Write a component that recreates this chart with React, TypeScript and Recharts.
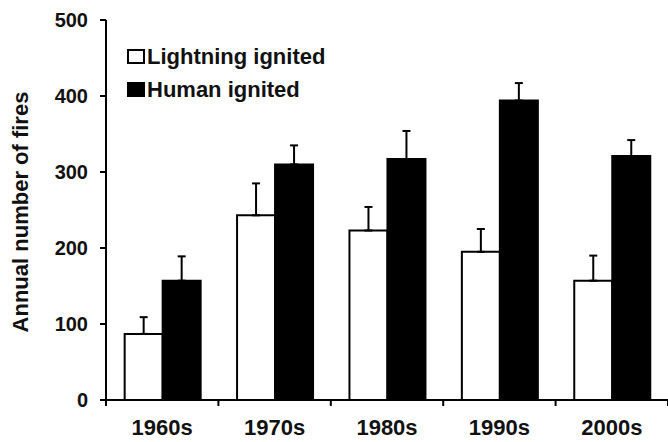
import { Bar, BarChart, ErrorBar, Label, XAxis, YAxis } from "recharts";

const DECADES = ["1960s", "1970s", "1980s", "1990s", "2000s"];
const LIGHTNING = [87, 243, 223, 195, 157];
const LIGHTNING_ERR = [22, 42, 31, 30, 33];
const HUMAN = [157, 310, 317, 394, 321];
const HUMAN_ERR = [32, 25, 37, 23, 21];
const Y_TICKS = [0, 100, 200, 300, 400, 500];

const SERIES = [
  { key: "lightning", err: "lightningErr", name: "Lightning ignited", fill: "#ffffff" },
  { key: "human", err: "humanErr", name: "Human ignited", fill: "#000000" },
];

const W = 668;
const H = 442;
const AXIS_W = 106;
const BAND = (W - AXIS_W) / DECADES.length;
const FONT = '"Liberation Sans", Arial, sans-serif';
const INK = "#111";

// only upward whiskers: low part is 0
const data = DECADES.map((d, i) => ({
  decade: d,
  lightning: LIGHTNING[i],
  lightningErr: [0, LIGHTNING_ERR[i]],
  human: HUMAN[i],
  humanErr: [0, HUMAN_ERR[i]],
}));

// ticks sit between the groups, label in the middle
function DecadeTick({ x, y, payload, index }: any) {
  const left = x - BAND / 2;
  const right = x + BAND / 2;
  return (
    <g>
      <line x1={left} x2={left} y1={y} y2={y + 6} stroke="#000" strokeWidth={2} />
      {index === DECADES.length - 1 && (
        <line x1={right} x2={right} y1={y} y2={y + 6} stroke="#000" strokeWidth={2} />
      )}
      <text
        x={x}
        y={y + 19}
        dy="0.71em"
        textAnchor="middle"
        fontFamily={FONT}
        fontWeight="bold"
        fontSize={22}
        fill={INK}
      >
        {payload.value}
      </text>
    </g>
  );
}

// legend drawn on top, recharts' Legend would eat plot space
function LegendBox() {
  return (
    <div
      style={{
        position: "absolute",
        left: 127,
        top: 40,
        fontFamily: FONT,
        fontWeight: "bold",
        fontSize: 22,
        color: INK,
      }}
    >
      {SERIES.map((s) => (
        <div key={s.key} style={{ display: "flex", alignItems: "center", height: 33 }}>
          <span
            style={{
              width: 18,
              height: 15,
              boxSizing: "border-box",
              border: "2px solid #000",
              background: s.fill,
              marginRight: 2,
            }}
          />
          <span>{s.name}</span>
        </div>
      ))}
    </div>
  );
}

function YTitle({ viewBox }: any) {
  const cx = 20;
  const cy = viewBox.y + viewBox.height / 2 + 2;
  return (
    <text
      x={cx}
      y={cy}
      transform={`rotate(-90 ${cx} ${cy})`}
      textAnchor="middle"
      dominantBaseline="central"
      fontFamily={FONT}
      fontWeight="bold"
      fontSize={22}
      fill={INK}
    >
      Annual number of fires
    </text>
  );
}

export default function App() {
  return (
    <div style={{ position: "absolute", left: 0, top: 0, width: W, height: H, background: "#fff" }}>
      <BarChart
        width={W}
        height={H}
        data={data}
        margin={{ top: 20, right: 0, left: 0, bottom: 0 }}
        barCategoryGap="16.6%"
        barGap={0}
      >
        <XAxis
          dataKey="decade"
          height={42}
          axisLine={{ stroke: "#000", strokeWidth: 2 }}
          tickLine={false}
          tickSize={0}
          tickMargin={0}
          interval={0}
          tick={<DecadeTick />}
        />
        <YAxis
          width={AXIS_W}
          domain={[0, 500]}
          ticks={Y_TICKS}
          axisLine={{ stroke: "#000", strokeWidth: 2 }}
          tickLine={{ stroke: "#000", strokeWidth: 2 }}
          tickSize={6}
          tickMargin={12}
          tick={{ fill: INK, fontSize: 20, fontWeight: "bold", fontFamily: FONT }}
        >
          <Label content={<YTitle />} />
        </YAxis>
        {SERIES.map((s) => (
          <Bar
            key={s.key}
            dataKey={s.key}
            name={s.name}
            fill={s.fill}
            stroke="#000"
            strokeWidth={2}
            isAnimationActive={false}
          >
            <ErrorBar
              dataKey={s.err}
              direction="y"
              width={4}
              stroke="#000"
              strokeWidth={2}
              isAnimationActive={false}
            />
          </Bar>
        ))}
      </BarChart>
      <LegendBox />
    </div>
  );
}
